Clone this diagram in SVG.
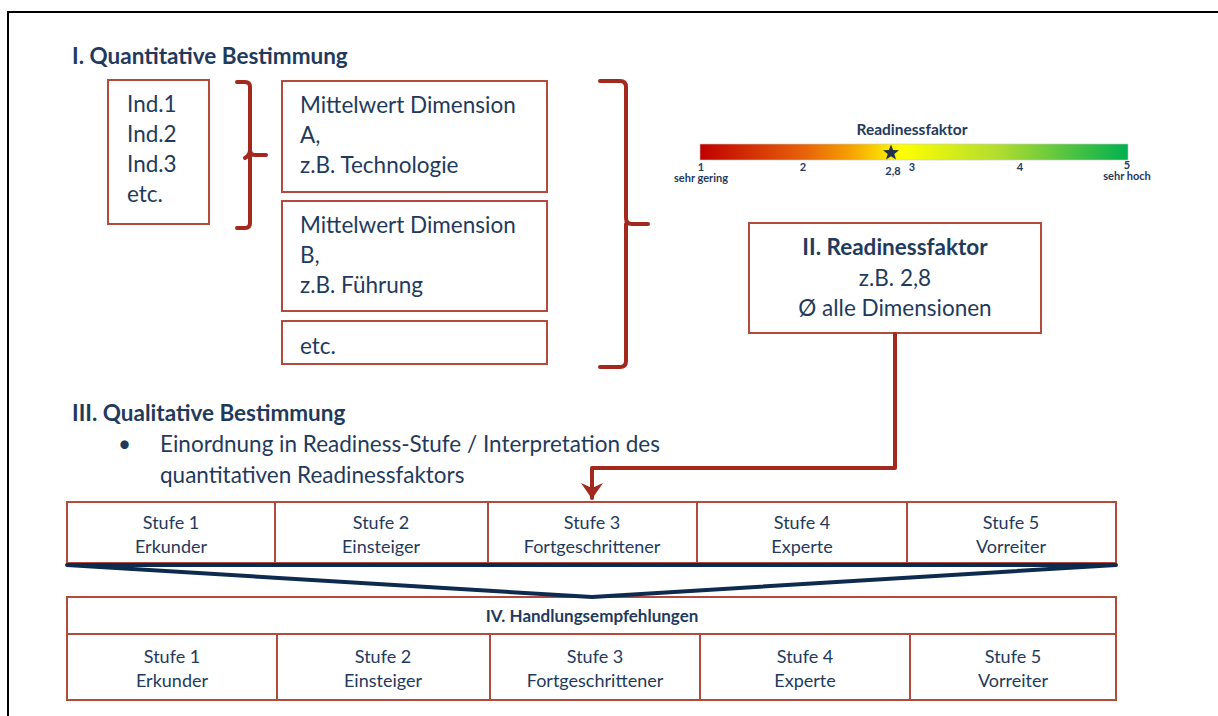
<svg xmlns="http://www.w3.org/2000/svg" width="1218" height="716" viewBox="0 0 1218 716">
<defs>
<style>
text{font-family:Lato,"Open Sans","Liberation Sans",sans-serif;fill:#1f3a5c}
.box{fill:#fff;stroke:#b24a3e;stroke-width:2}
.br{fill:none;stroke:#a3281d;stroke-width:4;stroke-linecap:round;stroke-linejoin:round}
.t20{font-size:22.5px}
.h{font-size:22.5px;font-weight:bold}
.c{text-anchor:middle}
.s{font-size:18px}
.sm{font-size:11px;font-weight:bold;text-anchor:middle}
</style>
<linearGradient id="grad" x1="0" x2="1" y1="0" y2="0">
<stop offset="0" stop-color="#c00000"/>
<stop offset="0.25" stop-color="#e8650a"/>
<stop offset="0.35" stop-color="#f5a000"/>
<stop offset="0.47" stop-color="#ffff00"/>
<stop offset="0.7" stop-color="#b0dc30"/>
<stop offset="1" stop-color="#00b050"/>
</linearGradient>
<marker id="arr" viewBox="0 0 16 22" refX="15" refY="11" markerWidth="4" markerHeight="5.5" orient="auto" markerUnits="strokeWidth">
<path d="M0,0 L16,11 L0,22 L5,11 Z" fill="#a3281d"/>
</marker>
</defs>
<rect width="1218" height="716" fill="#fff"/>
<path d="M8,716 V12 H1218" fill="none" stroke="#000" stroke-width="2"/>

<g id="section1">
<text x="72" y="64" class="h">I. Quantitative Bestimmung</text>
</g>
<g id="indicators">
<rect class="box" x="108" y="80" width="101" height="144"/>
<text class="t20" x="127" y="112">Ind.1</text>
<text class="t20" x="127" y="142">Ind.2</text>
<text class="t20" x="127" y="172">Ind.3</text>
<text class="t20" x="127" y="202">etc.</text>
</g>
<g id="dimA">
<rect class="box" x="282" y="81" width="265" height="111"/>
<text class="t20" x="300" y="113">Mittelwert Dimension</text>
<text class="t20" x="300" y="143">A,</text>
<text class="t20" x="300" y="173">z.B. Technologie</text>
</g>
<g id="dimB">
<rect class="box" x="282" y="201" width="265" height="110"/>
<text class="t20" x="300" y="233">Mittelwert Dimension</text>
<text class="t20" x="300" y="263">B,</text>
<text class="t20" x="300" y="293">z.B. Führung</text>
</g>
<g id="dimEtc">
<rect class="box" x="282" y="321" width="265" height="43"/>
<text class="t20" x="300" y="354">etc.</text>
</g>
<g id="scale">
<text x="912" y="135" font-size="15.5" font-weight="bold" class="c">Readinessfaktor</text>
<rect x="700" y="144" width="428" height="16" fill="url(#grad)" stroke="#c8c8c8" stroke-width="0.6"/>
<path d="M891,144.5 L893.1,150.1 L899,150.3 L894.3,153.9 L896,159.5 L891,156.2 L886,159.5 L887.7,153.9 L883,150.3 L888.9,150.1 Z" fill="#1f3050"/>
<text x="701" y="171" class="sm">1</text>
<text x="701" y="182" class="sm">sehr gering</text>
<text x="803" y="171" class="sm">2</text>
<text x="893" y="175" class="sm">2,8</text>
<text x="912" y="171" class="sm">3</text>
<text x="1020" y="171" class="sm">4</text>
<text x="1127" y="169" class="sm">5</text>
<text x="1127" y="180" class="sm">sehr hoch</text>
</g>
<g id="readiness">
<rect class="box" x="749" y="223" width="292" height="110"/>
<text x="895" y="255" class="t20 c" font-weight="bold">II. Readinessfaktor</text>
<text x="895" y="286" class="t20 c">z.B. 2,8</text>
<text x="895" y="316" class="t20 c">Ø alle Dimensionen</text>
</g>
<g id="section3">
<text x="72" y="421" class="h">III. Qualitative Bestimmung</text>
<text x="118" y="452" class="t20">•</text>
<text x="160" y="452" class="t20">Einordnung in Readiness-Stufe / Interpretation des</text>
<text x="160" y="483" class="t20">quantitativen Readinessfaktors</text>
</g>
<g id="stufen">
<rect class="box" x="67" y="502" width="1049" height="61"/>
<path d="M275,502V563M488,502V563M697,502V563M907,502V563" stroke="#b24a3e" stroke-width="2"/>
<text x="171" y="529" class="s c">Stufe 1</text><text x="171" y="553" class="s c">Erkunder</text>
<text x="381" y="529" class="s c">Stufe 2</text><text x="381" y="553" class="s c">Einsteiger</text>
<text x="592" y="529" class="s c">Stufe 3</text><text x="592" y="553" class="s c">Fortgeschrittener</text>
<text x="802" y="529" class="s c">Stufe 4</text><text x="802" y="553" class="s c">Experte</text>
<text x="1011" y="529" class="s c">Stufe 5</text><text x="1011" y="553" class="s c">Vorreiter</text>
</g>
<g id="handlung">
<rect class="box" x="67" y="597" width="1049" height="103"/>
<path d="M67,634H1116M277,634V700M490,634V700M700,634V700M910,634V700" stroke="#b24a3e" stroke-width="2"/>
<text x="592" y="622" font-size="17" font-weight="bold" class="c">IV. Handlungsempfehlungen</text>
<text x="172" y="663" class="s c">Stufe 1</text><text x="172" y="687" class="s c">Erkunder</text>
<text x="383" y="663" class="s c">Stufe 2</text><text x="383" y="687" class="s c">Einsteiger</text>
<text x="595" y="663" class="s c">Stufe 3</text><text x="595" y="687" class="s c">Fortgeschrittener</text>
<text x="805" y="663" class="s c">Stufe 4</text><text x="805" y="687" class="s c">Experte</text>
<text x="1013" y="663" class="s c">Stufe 5</text><text x="1013" y="687" class="s c">Vorreiter</text>
</g>
<g id="connectors">
<path class="br" d="M237,82 H245 Q250,82 250,87 V150 Q250,155 255,155 H266 M250,150 Q250,155 245,158 M250,155 V223 Q250,228 245,228 H237"/>
<path class="br" d="M600,81 H620 Q626,81 626,87 V218 Q626,224 632,224 H648 M626,224 V361 Q626,367 620,367 H600"/>
<path class="br" d="M895,334 V468 H592 V498" stroke-linecap="butt" marker-end="url(#arr)"/>
<path d="M67,565 H1116 L592,597 Z" fill="none" stroke="#0d2b4e" stroke-width="4" stroke-linejoin="round"/>
</g>
</svg>
